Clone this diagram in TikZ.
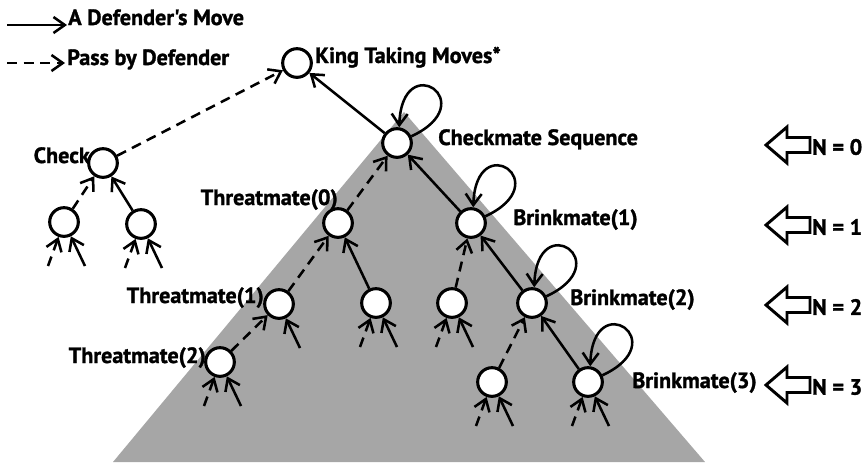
\documentclass[tikz,border=0pt]{standalone}
\usepackage{fontspec}
\setmainfont{PT Sans}
\newfontfamily\lblfont{PT Sans}[BoldFeatures={FakeBold=1.3}]
\usetikzlibrary{arrows.meta}

\tikzset{
  state/.style={circle, draw, fill=white, line width=2.3pt, minimum size=21.5pt, inner sep=0pt},
  lbl/.style={font=\lblfont\bfseries\fontsize{16.6}{20}\selectfont, inner sep=0pt},
  mv/.style={line width=1.9pt, -{Straight Barb[length=8.5pt,width=12pt]}},
  pass/.style={mv, dash pattern=on 7.5pt off 5pt},
  blockarrow/.style={draw, line width=2.2pt, fill=white, line join=miter},
}

\begin{document}
\begin{tikzpicture}[x=0.75pt, y=-0.75pt]
  \useasboundingbox (0,0) rectangle (868,462);
  \fill[white] (0,0) rectangle (868,462);

  % shaded search cone below the checkmate sequence
  \fill[black!35] (404,112) -- (113,462) -- (705,462) -- cycle;

  % legend
  \coordinate (la1) at (7,25);
  \coordinate (la2) at (67,25);
  \coordinate (lb1) at (7,63);
  \coordinate (lb2) at (65,63);
  \draw[mv] (la1) -- (la2);
  \draw[pass] (lb1) -- (lb2);
  \node[lbl, anchor=base west] (legA) at (68,25) {A Defender's Move};
  \node[lbl, anchor=base west] (legB) at (67,65) {Pass by Defender};

  % positions
  \node[state] (king)  at (297,63) {};
  \node[state] (check) at (103,163) {};
  \node[state] (ckl)   at (64,222) {};
  \node[state] (ckr)   at (141,224) {};
  \node[state] (cm)    at (397,143) {};
  \node[state] (t0)    at (338,223) {};
  \node[state] (b1)    at (471,223) {};
  \node[state] (t1)    at (279,304) {};
  \node[state] (m1)    at (376,303) {};
  \node[state] (m2)    at (452,303) {};
  \node[state] (b2)    at (532,303) {};
  \node[state] (t2)    at (220,362) {};
  \node[state] (m3)    at (492,382) {};
  \node[state] (b3)    at (588,382) {};

  % labels
  \node[lbl, anchor=base west] (lking)  at (315,63)  {King Taking Moves*};
  \node[lbl, anchor=base east] (lcheck) at (90,163)  {Check};
  \node[lbl, anchor=base west] (lcm)    at (438,145) {Checkmate Sequence};
  \node[lbl, anchor=base east] (lt0)    at (338,205) {Threatmate(0)};
  \node[lbl, anchor=base west] (lb1)    at (513,225) {Brinkmate(1)};
  \node[lbl, anchor=base east] (lt1)    at (264,303) {Threatmate(1)};
  \node[lbl, anchor=base west] (lb2)    at (570,305) {Brinkmate(2)};
  \node[lbl, anchor=base east] (lt2)    at (206,363) {Threatmate(2)};
  \node[lbl, anchor=base west] (lb3)    at (632,388) {Brinkmate(3)};

  % moves between positions
  \draw[pass] (check) -- (king);
  \draw[mv]   (cm) -- (king);
  \draw[pass] (ckl) -- (check);
  \draw[mv]   (ckr) -- (check);
  \draw[pass] (t0) -- (cm);
  \draw[mv]   (b1) -- (cm);
  \draw[pass] (t1) -- (t0);
  \draw[mv]   (m1) -- (t0);
  \draw[pass] (m2) -- (b1);
  \draw[mv]   (b2) -- (b1);
  \draw[pass] (t2) -- (t1);
  \draw[pass] (m3) -- (b2);
  \draw[mv]   (b3) -- (b2);

  % self loops
  \foreach \n in {cm, b1, b2, b3} {
    \draw[mv] (\n.25) .. controls +(25:60pt) and +(88:60pt) .. (\n.82);
  }

  % incoming stubs from below
  \foreach \n in {ckl, ckr, t2, m1, m2, m3, b3} {
    \path (\n) ++(-16,44) coordinate (\n-dl);
    \path (\n) ++(21,44) coordinate (\n-sr);
    \draw[pass] (\n-dl) -- (\n);
    \draw[mv] (\n-sr) -- (\n);
  }
  \path (t1) ++(21,44) coordinate (t1-sr);
  \draw[mv] (t1-sr) -- (t1);

  % depth markers
  \foreach \yy/\nn in {145/0, 225/1, 305/2, 385/3} {
    \draw[blockarrow] (766,\yy) -- ++(21,-18) -- ++(0,10.5) -- ++(23,0)
      -- ++(0,15) -- ++(-23,0) -- ++(0,10.5) -- cycle;
    \node[lbl, anchor=west] (n\nn) at (812,\yy+2) {N = \nn};
  }
\end{tikzpicture}
\end{document}
